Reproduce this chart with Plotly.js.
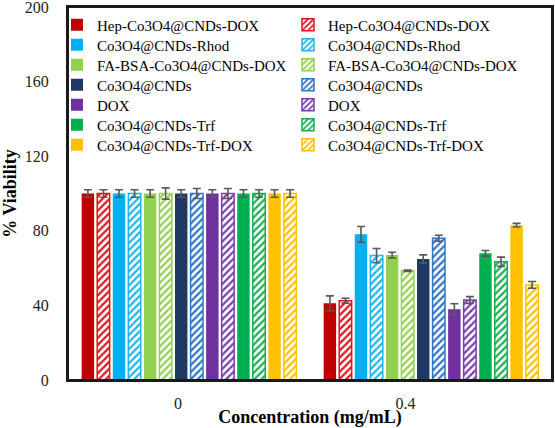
<!DOCTYPE html>
<html>
<head>
<meta charset="utf-8">
<script src="https://cdn.plot.ly/plotly-3.0.1.min.js"></script>
<style>html,body{margin:0;padding:0;background:#fff;}#chart{width:555px;height:428px;}</style>
</head>
<body>
<div id="chart"></div>
<script>
// Categories (concentration, mg/mL)
const concentrations = ["0", "0.4"];
const groupIndex = [0, 1];

// Series names (solid then hatched in each pair)
const names = [
  "Hep-Co3O4@CNDs-DOX", "Hep-Co3O4@CNDs-DOX",
  "Co3O4@CNDs-Rhod", "Co3O4@CNDs-Rhod",
  "FA-BSA-Co3O4@CNDs-DOX", "FA-BSA-Co3O4@CNDs-DOX",
  "Co3O4@CNDs", "Co3O4@CNDs",
  "DOX", "DOX",
  "Co3O4@CNDs-Trf", "Co3O4@CNDs-Trf",
  "Co3O4@CNDs-Trf-DOX", "Co3O4@CNDs-Trf-DOX"
];

// % viability values
const hepSolid      = [100, 41.1];
const hepHatch      = [100, 42.5];
const rhodSolid     = [100, 78.1];
const rhodHatch     = [100, 66.7];
const fabsaSolid    = [100, 67.0];
const fabsaHatch    = [100, 58.6];
const cndsSolid     = [100, 64.9];
const cndsHatch     = [100, 76.0];
const doxSolid      = [100, 37.9];
const doxHatch      = [100, 42.9];
const trfSolid      = [100, 67.9];
const trfHatch      = [100, 63.4];
const trfDoxSolid   = [100, 83.0];
const trfDoxHatch   = [100, 51.0];

// error bars
const hepSolidErr    = [2, 4.0];
const hepHatchErr    = [2, 1.3];
const rhodSolidErr   = [2, 4.2];
const rhodHatchErr   = [2, 3.8];
const fabsaSolidErr  = [2, 1.5];
const fabsaHatchErr  = [3, 0.4];
const cndsSolidErr   = [2, 2.2];
const cndsHatchErr   = [2.7, 1.6];
const doxSolidErr    = [2, 3.0];
const doxHatchErr    = [2.7, 1.8];
const trfSolidErr    = [2, 1.5];
const trfHatchErr    = [2, 2.5];
const trfDoxSolidErr = [2, 1.0];
const trfDoxHatchErr = [2, 1.8];

const values = [hepSolid, hepHatch, rhodSolid, rhodHatch, fabsaSolid, fabsaHatch,
  cndsSolid, cndsHatch, doxSolid, doxHatch, trfSolid, trfHatch, trfDoxSolid, trfDoxHatch];
const errors = [hepSolidErr, hepHatchErr, rhodSolidErr, rhodHatchErr, fabsaSolidErr, fabsaHatchErr,
  cndsSolidErr, cndsHatchErr, doxSolidErr, doxHatchErr, trfSolidErr, trfHatchErr, trfDoxSolidErr, trfDoxHatchErr];

const colors = ["#C00000", "#E0141E", "#00B0F0", "#1FB4F0", "#92D050", "#92D050",
  "#203864", "#2E75C6", "#7030A0", "#7A3DB0", "#00B050", "#16B050", "#FFC000", "#FFC000"];

const tickPos = [-0.045, 0.895];

const FONT = "Liberation Serif, Times New Roman, serif";
const FRAME = "#1a1a1a";
const legendId = i => (i === 0 ? "legend" : "legend" + (i + 1));

const traces = names.map((n, i) => {
  const hatched = i % 2 === 1;
  const marker = hatched ? {
    color: "#ffffff",
    pattern: {shape: "/", fgcolor: colors[i], bgcolor: "#ffffff", size: 5, solidity: 0.45},
    line: {color: colors[i], width: 1.5}
  } : {color: colors[i], line: {width: 0}};
  return {
    type: "bar",
    name: n,
    legend: legendId(i),
    x: groupIndex,
    y: values[i],
    marker: marker,
    error_y: {type: "data", array: errors[i], visible: true, color: "#595959", thickness: 1.6, width: 4},
    hoverinfo: "skip"
  };
});

// plot area geometry for legend placement (pixels)
const plotTop = 7, plotBottom = 380, plotLeft = 68, plotW = 484, plotH = 373;
const rowCenters = [22, 42, 62, 82, 102, 122, 142];
const colLeft = [57, 288];

// frame drawn as four thin filled bands (paper coordinates, ~2px thick)
const fx = 1 / plotW, fy = 1 / plotH;
const band = (x0, x1, y0, y1) => ({type: "rect", xref: "paper", yref: "paper", x0, x1, y0, y1,
  fillcolor: FRAME, line: {width: 0}, layer: "above"});
const frameShapes = [
  band(-fx, 1 + fx, -fy, fy),          // bottom
  band(-fx, 1 + fx, 1 - fy, 1 + fy),   // top
  band(-fx, fx, -fy, 1 + fy),          // left
  band(1 - fx, 1 + fx, -fy, 1 + fy)    // right
];

const layout = {
  width: 555, height: 428,
  margin: {l: 68, r: 3, t: 7, b: 48},
  paper_bgcolor: "#ffffff", plot_bgcolor: "#ffffff",
  font: {family: FONT, color: "#000"},
  barmode: "group",
  bargap: 0.1,
  bargroupgap: 0.2,
  showlegend: true,
  xaxis: {
    type: "linear",
    range: [-0.5, 1.5],
    tickvals: tickPos,
    ticktext: concentrations,
    showgrid: false, zeroline: false,
    showline: true, linecolor: FRAME, linewidth: 2, mirror: "all",
    ticks: "outside", ticklen: 8, tickcolor: "rgba(0,0,0,0)",
    tickfont: {size: 16, color: "#222"},
    title: {text: "Concentration (mg/mL)", font: {size: 18, family: FONT, weight: "bold"}, standoff: 2}
  },
  yaxis: {
    range: [0, 200],
    tickvals: [0, 40, 80, 120, 160, 200],
    showgrid: false, zeroline: false,
    showline: true, linecolor: FRAME, linewidth: 2, mirror: "all",
    ticks: "outside", ticklen: 14, tickcolor: "rgba(0,0,0,0)",
    ticklabeloverflow: "allow",
    tickfont: {size: 16, color: "#222"},
    title: {text: "% Viability", font: {size: 18, family: FONT, weight: "bold"}, standoff: 10}
  },
  shapes: frameShapes
};

names.forEach((n, i) => {
  const row = Math.floor(i / 2), col = i % 2;
  layout[legendId(i)] = {
    orientation: "v",
    x: (colLeft[col] - plotLeft) / plotW, xanchor: "left",
    y: (plotBottom - (rowCenters[row] - 13.5)) / (plotBottom - plotTop), yanchor: "top",
    bgcolor: "rgba(0,0,0,0)", borderwidth: 0,
    font: {size: 15, family: FONT, color: "#000"},
    itemclick: false, itemdoubleclick: false
  };
});

Plotly.newPlot("chart", traces, layout, {displayModeBar: false, staticPlot: true});
</script>
</body>
</html>
